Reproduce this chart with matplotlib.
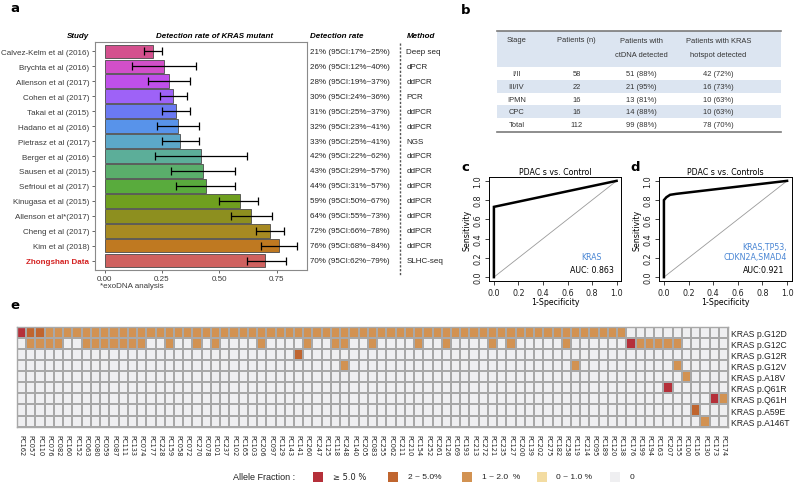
import matplotlib
matplotlib.use('Agg')
import matplotlib.pyplot as plt
from matplotlib import font_manager
from matplotlib.colors import ListedColormap, BoundaryNorm
from matplotlib.patches import Rectangle
from matplotlib.transforms import blended_transform_factory
import numpy as np

# ---------------- data ----------------
studies = ['Calvez-Kelm et al (2016)', 'Brychta et al (2016)', 'Allenson et al (2017)',
           'Cohen et al (2017)', 'Takai et al (2015)', 'Hadano et al (2016)',
           'Pietrasz et al (2017)', 'Berger et al (2016)', 'Sausen et al (2015)',
           'Sefrioui et al (2017)', 'Kinugasa et al (2015)', 'Allenson et al*(2017)',
           'Cheng et al (2017)', 'Kim et al (2018)', 'Zhongshan Data']
rates = [0.21, 0.26, 0.28, 0.30, 0.31, 0.32, 0.33, 0.42, 0.43, 0.44, 0.59, 0.64, 0.72, 0.76, 0.70]
ci_low = [0.17, 0.12, 0.19, 0.24, 0.25, 0.23, 0.25, 0.22, 0.29, 0.31, 0.50, 0.55, 0.66, 0.68, 0.62]
ci_high = [0.25, 0.40, 0.37, 0.36, 0.37, 0.41, 0.41, 0.62, 0.57, 0.57, 0.67, 0.73, 0.78, 0.84, 0.79]
methods = ['Deep seq', 'dPCR', 'ddPCR', 'PCR', 'ddPCR', 'ddPCR', 'NGS', 'ddPCR', 'ddPCR',
           'ddPCR', 'ddPCR', 'ddPCR', 'ddPCR', 'ddPCR', 'SLHC-seq']
bar_colors = ['#D4508E', '#D24FC9', '#BF50EA', '#9E62F7', '#6B79F2', '#5893EA', '#5CA8C9',
              '#5CAE99', '#5AAE6B', '#59AB3D', '#6F9F1F', '#8D8F1F', '#A78A22', '#BF7921', '#CF615F']

table_header = ['Stage', 'Patients (n)', 'Patients with\nctDNA detected', 'Patients with KRAS\nhotspot detected']
stages = ['I/II', 'III/IV', 'IPMN', 'CPC', 'Total']
patients_n = ['58', '22', '16', '16', '112']
ctdna_detected = ['51 (88%)', '21 (95%)', '13 (81%)', '14 (88%)', '99 (88%)']
kras_detected = ['42 (72%)', '16 (73%)', '10 (63%)', '10 (63%)', '78 (70%)']

roc_c_fpr = [0.0, 0.0, 1.0]
roc_c_tpr = [0.0, 0.73, 1.0]
roc_d_fpr = [0.0, 0.0, 0.02, 0.05, 0.10, 1.0]
roc_d_tpr = [0.0, 0.80, 0.83, 0.855, 0.865, 1.0]

samples = ['PC162', 'PC057', 'PC110', 'PC076', 'PC082', 'PC160', 'PC152', 'PC063', 'PC080', 'PC059',
           'PC087', 'PC111', 'PC133', 'PC074', 'PC177', 'PC228', 'PC159', 'PC058', 'PC072', 'PC270',
           'PC078', 'PC101', 'PC237', 'PC102', 'PC165', 'PC103', 'PC206', 'PC097', 'PC129', 'PC143',
           'PC141', 'PC260', 'PC247', 'PC125', 'PC118', 'PC248', 'PC140', 'PC205', 'PC083', 'PC255',
           'PC062', 'PC211', 'PC210', 'PC154', 'PC252', 'PC261', 'PC126', 'PC169', 'PC193', 'PC213',
           'PC272', 'PC121', 'PC235', 'PC127', 'PC200', 'PC139', 'PC202', 'PC275', 'PC182', 'PC258',
           'PC119', 'PC214', 'PC095', 'PC189', 'PC120', 'PC138', 'PC176', 'PC199', 'PC194', 'PC163',
           'PC207', 'PC155', 'PC100', 'PC116', 'PC130', 'PC173', 'PC174']
mutations = ['KRAS p.G12D', 'KRAS p.G12C', 'KRAS p.G12R', 'KRAS p.G12V', 'KRAS p.A18V',
             'KRAS p.Q61R', 'KRAS p.Q61H', 'KRAS p.A59E', 'KRAS p.A146T']
# allele fraction class per sample: 0 = 0, 1 = 0~1%, 2 = 1~2%, 3 = 2~5%, 4 = >=5%
af_g12d = ("4332222222" "2222222222" "2222222222" "2222222222" "2222222222" "2222222222" "2222220000" "0000000")
af_g12c = ("0222200222" "2222002002" "0200002000" "0200220020" "0002002000" "0202000002" "0000004222" "2200000")
af_g12r = ("0000000000" "0000000000" "0000000000" "3000000000" "0000000000" "0000000000" "0000000000" "0000000")
af_g12v = ("0000000000" "0000000000" "0000000000" "0000020000" "0000000000" "0000000000" "2000000000" "0200000")
af_a18v = ("0000000000" "0000000000" "0000000000" "0000000000" "0000000000" "0000000000" "0000000000" "0020000")
af_q61r = ("0000000000" "0000000000" "0000000000" "0000000000" "0000000000" "0000000000" "0000000000" "4000000")
af_q61h = ("0000000000" "0000000000" "0000000000" "0000000000" "0000000000" "0000000000" "0000000000" "0000042")
af_a59e = ("0000000000" "0000000000" "0000000000" "0000000000" "0000000000" "0000000000" "0000000000" "0003000")
af_a146t = ("0000000000" "0000000000" "0000000000" "0000000000" "0000000000" "0000000000" "0000000000" "0000200")
legend_labels = ['\u2265 5.0 %', '2 ~ 5.0%', '1 ~ 2.0  %', '0 ~ 1.0 %', '0']
af_colors = ['#EFEFF1', '#F3DCA2', '#D29252', '#C0652F', '#B5303A']

# ---------------- fonts ----------------
names = {f.name for f in font_manager.fontManager.ttflist}
SANS = 'Liberation Sans' if 'Liberation Sans' in names else 'DejaVu Sans'
if 'Liberation Sans Narrow' in names:
    NARROW = dict(family='Liberation Sans Narrow')
else:
    NARROW = dict(family='DejaVu Sans', stretch='condensed')
plt.rcParams['font.family'] = [SANS, 'DejaVu Sans']

W, H = 794, 485
fig = plt.figure(figsize=(W / 100, H / 100), dpi=100)


def ax_px(x0, y0, x1, y1):
    return fig.add_axes([x0 / W, 1 - y1 / H, (x1 - x0) / W, (y1 - y0) / H])


ov = fig.add_axes([0, 0, 1, 1])
ov.set_xlim(0, W)
ov.set_ylim(H, 0)
ov.axis('off')

FS = 5.75
TFS = 5.4

# panel labels
for lab, x, y in [('a', 10, 9), ('b', 461, 11), ('c', 461, 168), ('d', 630, 168), ('e', 10, 306)]:
    ov.text(x, y, lab, fontsize=9.5, fontweight='bold', ha='left', va='center', family='DejaVu Sans')

# ---------------- panel a ----------------
n = len(studies)
ypos = np.arange(n)
r = np.array(rates)
axa = ax_px(95, 43.3, 307, 270.7)
axa.barh(ypos, r, height=0.9, color=bar_colors, edgecolor='#4a4a4a', linewidth=0.6)
axa.errorbar(r, ypos, xerr=[r - np.array(ci_low), np.array(ci_high) - r], fmt='none',
             ecolor='black', elinewidth=0.9, capsize=2.6, capthick=0.9)
axa.set_ylim(n - 0.4, -0.6)
axa.set_xlim(-0.042, 0.882)
axa.set_xticks([0, 0.25, 0.5, 0.75])
axa.set_xticklabels(['0.00', '0.25', '0.50', '0.75'])
axa.set_yticks(ypos)
axa.set_yticklabels(studies)
axa.tick_params(axis='both', labelsize=FS, colors='#4d4d4d', length=2.5, width=0.6, pad=1.5)
for t in axa.get_xticklabels() + axa.get_yticklabels():
    t.set_color('#3a3a3a')
zl = axa.get_yticklabels()[-1]
zl.set_color('#D42222')
zl.set_fontweight('bold')
for s in axa.spines.values():
    s.set_color('#8a8a8a')
    s.set_linewidth(0.8)

hdr = dict(fontsize=FS, fontweight='bold', style='italic', va='center')
ov.text(77.7, 36.5, 'Study', ha='center', **hdr)
ov.text(215, 36.5, 'Detection rate of KRAS mutant', ha='center', **hdr)
ov.text(310, 36.5, 'Detection rate', ha='left', **hdr)
ov.text(406.5, 36.5, 'Method', ha='left', **hdr)
ov.text(100, 287, '*exoDNA analysis', fontsize=FS, ha='left', va='center', color='#3a3a3a')

tr = blended_transform_factory(ov.transData, axa.transData)
for i in range(n):
    txt = '%d%% (95CI:%d%%~%d%%)' % (round(rates[i] * 100), round(ci_low[i] * 100), round(ci_high[i] * 100))
    ov.text(310, ypos[i], txt, transform=tr, fontsize=FS, ha='left', va='center', color='#222222')
    ov.text(406.5, ypos[i], methods[i], transform=tr, fontsize=FS, ha='left', va='center', color='#222222')
ov.plot([400, 400], [44, 276], color='#555555', lw=1.0, ls=(0, (1.6, 1.2)))

# ---------------- panel b (table) ----------------
tx0, tx1 = 497, 781
col_x = [516.5, 576.5, 641.5, 718.5]
ov.add_patch(Rectangle((tx0, 32), tx1 - tx0, 36, facecolor='#DCE5F1', edgecolor='none'))
row_h = 12.6
row_top = 68.5
for k in range(len(stages)):
    y0 = row_top + k * row_h
    if k in (1, 3):
        ov.add_patch(Rectangle((tx0, y0), tx1 - tx0, row_h, facecolor='#DCE5F1', edgecolor='none'))
    yc = y0 + row_h / 2
    for j, val in enumerate([stages[k], patients_n[k], ctdna_detected[k], kras_detected[k]]):
        ov.text(col_x[j], yc, val, fontsize=TFS, ha='center', va='center', color='#333333')
for j, hd in enumerate(table_header):
    ov.text(col_x[j], 40.5 if '\n' not in hd else 48.5, hd, fontsize=TFS, ha='center', va='center',
            color='#333333', linespacing=2.45)
ov.plot([tx0, tx1], [32, 32], color='#7a7a7a', lw=1.2)
ov.plot([tx0, tx1], [row_top + 5 * row_h + 1, row_top + 5 * row_h + 1], color='#7a7a7a', lw=1.2)


# ---------------- panels c, d ----------------
def roc(ax, fpr, tpr, title, genes, auc_text, genes_x):
    ax.plot([0, 1], [0, 1], color='#9a9a9a', lw=0.6)
    ax.plot(fpr, tpr, color='black', lw=1.8, solid_joinstyle='miter')
    ax.set_xlim(-0.04, 1.04)
    ax.set_ylim(-0.04, 1.04)
    ticks = [0, 0.2, 0.4, 0.6, 0.8, 1.0]
    ax.set_xticks(ticks)
    ax.set_yticks(ticks)
    ax.set_xticklabels(['0.0', '0.2', '0.4', '0.6', '0.8', '1.0'], **NARROW)
    ax.set_yticklabels(['0.0', '0.2', '0.4', '0.6', '0.8', '1.0'], rotation=90, va='center', **NARROW)
    ax.tick_params(labelsize=6.5, length=3, width=0.6, pad=2, colors='#222222')
    for s in ax.spines.values():
        s.set_linewidth(0.7)
    ax.set_title(title, fontsize=6.3, pad=2, **NARROW)
    ax.set_xlabel('1-Specificity', fontsize=6.3, labelpad=0, **NARROW)
    ax.set_ylabel('Sensitivity', fontsize=6.3, labelpad=1, **NARROW)
    ax.text(0.98, 0.035, auc_text, fontsize=6.3, ha='right', va='bottom', **NARROW)
    ax.text(genes_x, 0.17, genes, fontsize=6.3, ha='right', va='bottom',
            color='#4A86D4', linespacing=1.1, **NARROW)


axc = ax_px(489, 178, 621.5, 282)
roc(axc, roc_c_fpr, roc_c_tpr, 'PDAC s vs. Control', 'KRAS', 'AUC: 0.863', 0.88)
axd = ax_px(659, 178, 792, 282)
roc(axd, roc_d_fpr, roc_d_tpr, 'PDAC s vs. Controls', 'KRAS,TP53,\nCDKN2A,SMAD4', 'AUC:0.921', 1.0)

# ---------------- panel e (heatmap) ----------------
rows = [af_g12d, af_g12c, af_g12r, af_g12v, af_a18v, af_q61r, af_q61h, af_a59e, af_a146t]
M = np.array([[int(c) for c in row] for row in rows])
axe = ax_px(17, 327.7, 728, 427.7)
cmap = ListedColormap(af_colors)
norm = BoundaryNorm(np.arange(-0.5, 5.5, 1), cmap.N)
axe.pcolormesh(np.arange(M.shape[1] + 1), np.arange(M.shape[0] + 1), M, cmap=cmap, norm=norm,
               edgecolors='#a8a8a8', linewidth=1.1)
axe.set_xlim(0, M.shape[1])
axe.set_ylim(M.shape[0], 0)
axe.set_xticks(np.arange(M.shape[1]) + 0.5)
axe.set_xticklabels(samples, rotation=270, fontsize=5.3, va='top', ha='center', **NARROW)
axe.set_yticks(np.arange(M.shape[0]) + 0.5)
axe.set_yticklabels(mutations, fontsize=6.2)
axe.yaxis.tick_right()
axe.tick_params(length=0, pad=2.5, colors='#222222')
axe.tick_params(axis='x', pad=5)
for s in axe.spines.values():
    s.set_color('#a8a8a8')
    s.set_linewidth(1.0)

# legend for heatmap
ov.text(233, 478, 'Allele Fraction :', fontsize=6.5, ha='left', va='center', color='#222222')
leg_sq_x = [313, 388, 461.5, 536.5, 610]
leg_colors = [af_colors[4], af_colors[3], af_colors[2], af_colors[1], af_colors[0]]
for x, c, lab in zip(leg_sq_x, leg_colors, legend_labels):
    ov.add_patch(Rectangle((x, 473), 10, 10, facecolor=c, edgecolor='none'))
    ov.text(x + 20, 478, lab, fontsize=6, ha='left', va='center', color='#222222',
            family=['DejaVu Sans'] if lab.startswith('\u2265') else None)

fig.savefig('out.png', dpi=100)
